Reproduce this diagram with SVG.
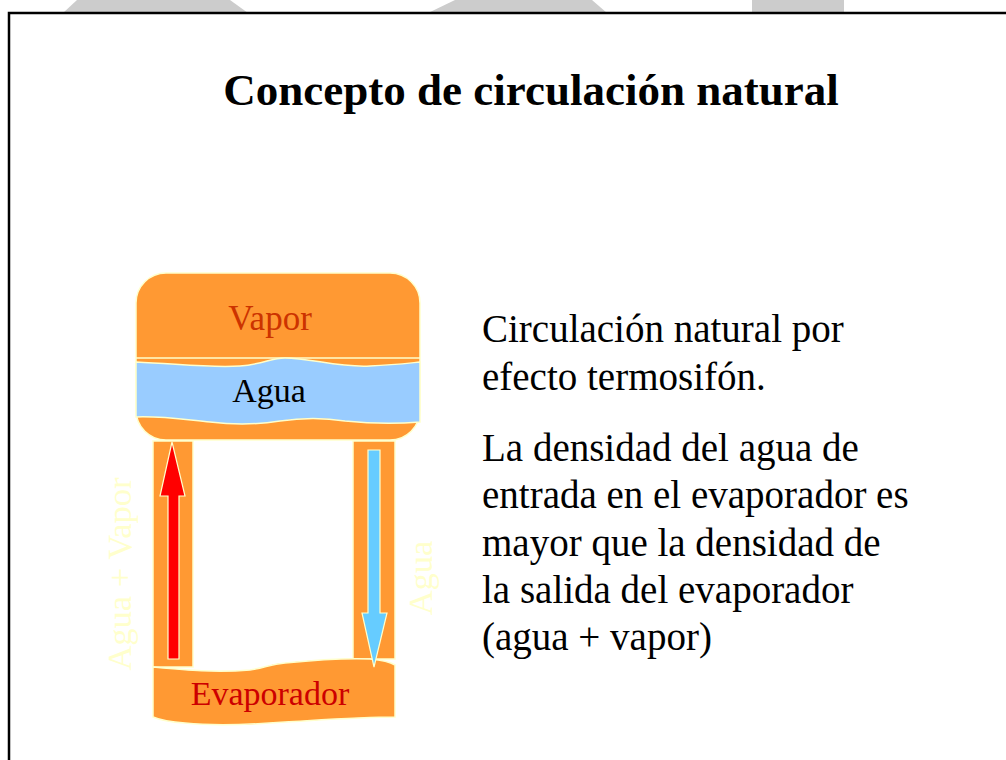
<svg xmlns="http://www.w3.org/2000/svg" width="1006" height="760" viewBox="0 0 1006 760">
<style>
.t{font-family:"Liberation Serif","Times New Roman",serif}
.or{fill:#FF9933;stroke:#FFFFCC;stroke-width:1.5}
.body{font-size:39px;fill:#000}
.lbl{font-size:34px}
</style>
<rect width="1006" height="760" fill="#fff"/>
<g id="bg-shapes" fill="#cccccc">
<polygon points="77,0 230,0 248,13 63,13"/>
<polygon points="455,0 592,0 607,13 428,13"/>
<rect x="752" y="0" width="92" height="13"/>
</g>
<rect x="9" y="13" width="1010" height="760" fill="#fff" stroke="#000" stroke-width="2.5"/>
<text class="t" x="531" y="105" text-anchor="middle" font-size="45" font-weight="bold">Concepto de circulación natural</text>
<g id="description" class="t body">
<text x="482" y="342">Circulación natural por</text>
<text x="482" y="390">efecto termosifón.</text>
<text x="482" y="461">La densidad del agua de</text>
<text x="482" y="508">entrada en el evaporador es</text>
<text x="482" y="556">mayor que la densidad de</text>
<text x="482" y="603">la salida del evaporador</text>
<text x="482" y="650">(agua + vapor)</text>
</g>
<g id="tank">
<rect class="or" x="136" y="273" width="284" height="167" rx="30"/>
<line x1="136" y1="358" x2="420" y2="358" stroke="#FFFFCC" stroke-width="1.5"/>
<path d="M136,362 C180,364 210,368 240,366 C265,364 270,358 285,358 C310,358 340,368 370,366 C395,365 410,363 420,362 L420,422 C395,424 375,424 345,421 C320,417 300,418 280,421 C255,425 235,425 210,422 C180,419 160,416 136,417 Z" fill="#99CCFF" stroke="#FFFFCC" stroke-width="1.5"/>
<text class="t" font-size="35" x="270" y="330" text-anchor="middle" fill="#CC3300">Vapor</text>
<text class="t lbl" x="269" y="402" text-anchor="middle" fill="#000">Agua</text>
</g>
<g id="riser">
<rect class="or" x="153" y="441" width="40" height="226"/>
</g>
<g id="downcomer">
<rect class="or" x="353" y="441" width="42" height="218"/>
</g>
<g id="evaporator">
<path class="or" d="M153,667 C185,670 215,673 250,670 C265,668 270,664 285,663 C315,660 345,658 370,659 C380,660 390,662 395,665 L395,717 C360,717 320,720 285,722 C245,725 215,726 185,723 C170,722 160,720 153,717 Z"/>
<text class="t lbl" x="270" y="705" text-anchor="middle" fill="#CC0000">Evaporador</text>
</g>
<g id="connectors" stroke="#FFFFCC" stroke-width="1.2">
<polygon points="172,442 185,496 179,496 179,659 168,659 168,496 160,496" fill="#FF0000"/>
<polygon points="368,450 380,450 380,613 387,613 374,667 362,613 368,613" fill="#66CCFF"/>
</g>
<g id="flow-labels" class="t" font-size="34.5" fill="#FFFFCC">
<text transform="translate(131,574) rotate(-90)" text-anchor="middle">Agua + Vapor</text>
<text transform="translate(432,578) rotate(-90)" text-anchor="middle">Agua</text>
</g>
</svg>
